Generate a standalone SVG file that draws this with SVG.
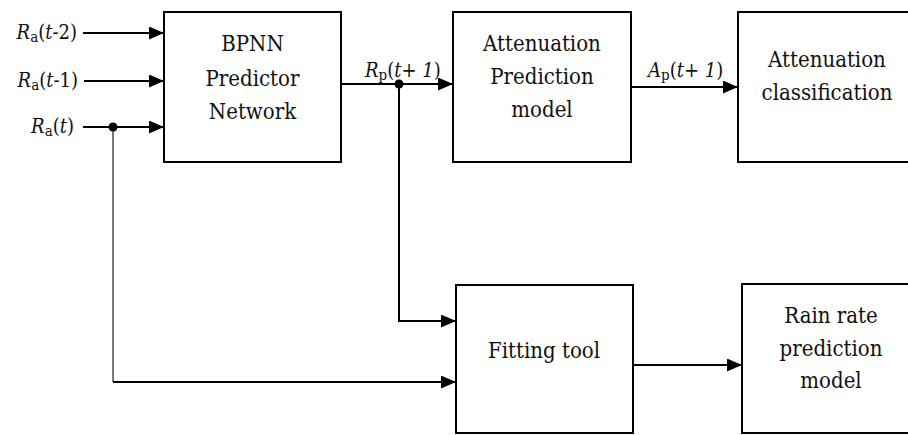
<svg xmlns="http://www.w3.org/2000/svg" width="908" height="435" viewBox="0 0 908 435">
  <style>
    .box { fill: #fff; stroke: #000; stroke-width: 2; }
    .lbl { font-family: 'DejaVu Serif Condensed', 'DejaVu Serif', serif; font-stretch: condensed; font-size: 22px; fill: #111; text-anchor: middle; }
    .sig { font-family: 'DejaVu Serif Condensed', 'DejaVu Serif', serif; font-stretch: condensed; font-size: 20px; fill: #111; }
    .it { font-style: italic; }
    .sub { font-size: 15px; }
    .wire { fill: none; stroke: #000; stroke-width: 2; }
    .thin { fill: none; stroke: #333; stroke-width: 1.3; }
  </style>
  <defs>
    <marker id="arrow" markerUnits="userSpaceOnUse" markerWidth="16" markerHeight="14" refX="15" refY="6.5" orient="auto">
      <path d="M0,0 L15,6.5 L0,13 Z" fill="#000"/>
    </marker>
  </defs>
  <rect width="908" height="435" fill="#fff"/>

  <!-- connectors -->
  <g id="connectors">
    <line class="wire" x1="83" y1="33" x2="164" y2="33" marker-end="url(#arrow)"/>
    <line class="wire" x1="84" y1="81" x2="164" y2="81" marker-end="url(#arrow)"/>
    <line class="wire" x1="83" y1="127" x2="164" y2="127" marker-end="url(#arrow)"/>
    <polyline class="thin" points="113,127 113,382"/>
    <line class="wire" x1="113" y1="382" x2="456" y2="382" marker-end="url(#arrow)"/>
    <circle cx="113" cy="127" r="4.5" fill="#000"/>

    <line class="wire" x1="341" y1="84" x2="453" y2="84" marker-end="url(#arrow)"/>
    <polyline class="wire" points="399,84 399,321 456,321" marker-end="url(#arrow)"/>
    <circle cx="399" cy="84" r="4.5" fill="#000"/>

    <line class="wire" x1="631" y1="87" x2="738" y2="87" marker-end="url(#arrow)"/>
    <line class="wire" x1="633" y1="365" x2="742" y2="365" marker-end="url(#arrow)"/>

    <!-- signal labels -->
    <text class="sig" x="77" y="39" text-anchor="end"><tspan class="it">R</tspan><tspan class="sub" dy="3">a</tspan><tspan dy="-3">(</tspan><tspan class="it">t</tspan>-2)</text>
    <text class="sig" x="78" y="87" text-anchor="end"><tspan class="it">R</tspan><tspan class="sub" dy="3">a</tspan><tspan dy="-3">(</tspan><tspan class="it">t</tspan>-1)</text>
    <text class="sig" x="74" y="133" text-anchor="end"><tspan class="it">R</tspan><tspan class="sub" dy="3">a</tspan><tspan dy="-3">(</tspan><tspan class="it">t</tspan>)</text>
    <text class="sig" x="365" y="77"><tspan class="it">R</tspan><tspan class="sub" dy="3">p</tspan><tspan dy="-3">(</tspan><tspan class="it">t</tspan>+ <tspan class="it">1</tspan>)</text>
    <text class="sig" x="648" y="77"><tspan class="it">A</tspan><tspan class="sub" dy="3">p</tspan><tspan dy="-3">(</tspan><tspan class="it">t</tspan>+ <tspan class="it">1</tspan>)</text>
  </g>

  <g id="bpnn">
    <rect class="box" x="164" y="12" width="177" height="150"/>
    <text class="lbl" x="252.5" y="51">BPNN</text>
    <text class="lbl" x="252.5" y="86">Predictor</text>
    <text class="lbl" x="252.5" y="119">Network</text>
  </g>

  <g id="attenuation-prediction">
    <rect class="box" x="453" y="12" width="178" height="150"/>
    <text class="lbl" x="542" y="51">Attenuation</text>
    <text class="lbl" x="542" y="84">Prediction</text>
    <text class="lbl" x="542" y="117">model</text>
  </g>

  <g id="attenuation-classification">
    <rect class="box" x="738" y="12" width="190" height="150"/>
    <text class="lbl" x="827" y="67">Attenuation</text>
    <text class="lbl" x="827" y="100">classification</text>
  </g>

  <g id="fitting-tool">
    <rect class="box" x="456" y="285" width="177" height="148"/>
    <text class="lbl" x="544" y="358">Fitting tool</text>
  </g>

  <g id="rain-rate">
    <rect class="box" x="742" y="284" width="190" height="149"/>
    <text class="lbl" x="831" y="323">Rain rate</text>
    <text class="lbl" x="831" y="356">prediction</text>
    <text class="lbl" x="831" y="388">model</text>
  </g>
</svg>
